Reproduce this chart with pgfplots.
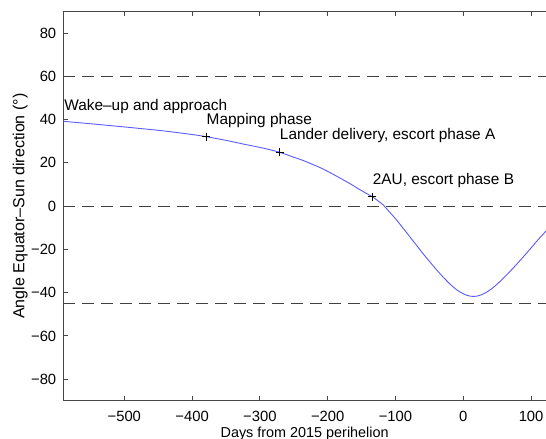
\documentclass[border=0pt]{standalone}
\usepackage{fontspec}
\setmainfont{Liberation Sans}
\usepackage{pgfplots}
\pgfplotsset{compat=1.18}
\definecolor{curveblue}{RGB}{90,90,255}
\definecolor{framegray}{RGB}{70,70,70}

\begin{document}
\begin{tikzpicture}
\begin{axis}[
  scale only axis,
  width=241.4pt, height=194.8pt,
  xmin=-590, xmax=122,
  ymin=-90, ymax=90,
  axis y line*=left,
  axis line style={framegray, line width=0.5pt},
  tick style={framegray, line width=0.5pt},
  tick align=inside,
  major tick length=2.5pt,
  xtick={-500,-400,-300,-200,-100,0,100},
  xticklabels={−500,−400,−300,−200,−100,0,100},
  ytick={-80,-60,-40,-20,0,20,40,60,80},
  yticklabels={−80,−60,−40,−20,0,20,40,60,80},
  ticklabel style={font=\fontsize{7.4pt}{9pt}\selectfont},
  xticklabel style={anchor=base, yshift=-10.3pt},
  xlabel={Days from 2015 perihelion},
  ylabel={Angle Equator–Sun direction (°)},
  xlabel style={at={(axis description cs:0.5,0)}, anchor=base, yshift=-18.3pt,
    font=\fontsize{7.2pt}{9pt}\selectfont},
  ylabel style={at={(axis description cs:-0.089,0.5)}, anchor=center,
    font=\fontsize{8pt}{9pt}\selectfont},
  clip=true,
]
% reference levels
\addplot[black!75, line width=0.5pt, dash pattern=on 6pt off 3.5pt] coordinates {(-590,60) (122,60)};
\addplot[black!75, line width=0.5pt, dash pattern=on 6pt off 3.5pt] coordinates {(-590,0) (122,0)};
\addplot[black!75, line width=0.5pt, dash pattern=on 6pt off 3.5pt] coordinates {(-590,-45) (122,-45)};

% angle between comet equator and sun direction
\addplot[curveblue, line width=0.45pt, smooth, tension=0.5] coordinates {
  (-590,39.2) (-540,37.8) (-490,36.3) (-440,34.7) (-400,33.1) (-379,32.1)
  (-350,30.4) (-320,28.4) (-295,26.8) (-271,24.9) (-250,22.6) (-237,21.2)
  (-220,19.0) (-207,17.2) (-190,14.4) (-178,12.3) (-165,10.0) (-153,7.7)
  (-143,5.9) (-134,4.3) (-126,2.5) (-118,0.5) (-110,-2.3) (-100,-5.8)
  (-90,-9.7) (-80,-13.7) (-70,-17.7) (-60,-21.7) (-50,-25.5) (-40,-29.2)
  (-30,-32.7) (-20,-35.9) (-10,-38.6) (0,-40.5) (10,-41.6) (20,-41.6)
  (30,-40.5) (40,-38.6) (50,-36.0) (60,-33.0) (70,-29.8) (80,-26.4)
  (90,-22.9) (100,-19.3) (110,-15.6) (122,-11.5)
};

% phase markers
\addplot[only marks, mark=+, mark size=2pt, black, mark options={line width=0.4pt}] coordinates {
  (-379,32.1) (-271,24.9) (-134,4.3)
};

\node[anchor=base west, inner sep=0pt, font=\fontsize{7.7pt}{9pt}\selectfont] at (axis cs:-589,44.1) {Wake–up and approach};
\node[anchor=base west, inner sep=0pt, font=\fontsize{7.7pt}{9pt}\selectfont] at (axis cs:-379,37.6) {Mapping phase};
\node[anchor=base west, inner sep=0pt, font=\fontsize{7.7pt}{9pt}\selectfont] at (axis cs:-271,30.7) {Lander delivery, escort phase A};
\node[anchor=base west, inner sep=0pt, font=\fontsize{7.7pt}{9pt}\selectfont] at (axis cs:-134,10.0) {2AU, escort phase B};

\coordinate (tl) at (axis description cs:0,1);
\coordinate (br) at (axis description cs:1,0);
\end{axis}
\pgfresetboundingbox
\useasboundingbox ([xshift=-31.65pt,yshift=5.7pt]tl) rectangle ([yshift=-19pt]br);
\end{tikzpicture}
\end{document}
